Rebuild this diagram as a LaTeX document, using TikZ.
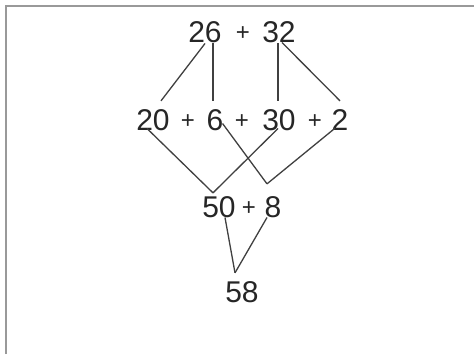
\documentclass[tikz,border=0pt]{standalone}
\usepackage{fontspec}
\setmainfont{Liberation Sans}
\begin{document}
\begin{tikzpicture}[x=1pt,y=-1pt,
  num/.style={inner sep=0pt,anchor=base,font=\fontsize{30}{36}\selectfont,text=black!85},
  plus/.style={inner sep=0pt,anchor=base,font=\fontsize{24}{28}\selectfont,text=black!85},
  link/.style={draw=black!75,line width=1.3pt}]
\useasboundingbox (0,0) rectangle (474,354);
\fill[white] (0,0) rectangle (474,354);
\draw[black!40,line width=1.5pt] (6,354) -- (6,6) -- (474,6);
% row 1
\node[num] (n26) at (205,42) {26};
\node[plus] (p1) at (243,40) {+};
\node[num] (n32) at (279,42) {32};
% row 2
\node[num] (n20) at (153,130) {20};
\node[plus] (p2) at (188,128) {+};
\node[num] (n6) at (215,130) {6};
\node[plus] (p3) at (242,128) {+};
\node[num] (n30) at (279,130) {30};
\node[plus] (p4) at (315,128) {+};
\node[num] (n2) at (340,130) {2};
% row 3
\node[num] (n50) at (219,217) {50};
\node[plus] (p5) at (249,215) {+};
\node[num] (n8) at (273,217) {8};
% row 4
\node[num] (n58) at (242,302) {58};
% meeting points
\coordinate (m50) at ([xshift=-6pt,yshift=3pt]n50.north);
\coordinate (m8) at ([xshift=-6pt,yshift=12pt]n8.north);
\coordinate (m58) at ([xshift=-7pt,yshift=8pt]n58.north);
% connectors row1 -> row2
\draw[link] ([yshift=-1pt]n26.south) -- ([xshift=8pt,yshift=8pt]n20.north);
\draw[link] ([xshift=8pt,yshift=-1pt]n26.south) -- ([xshift=-2pt,yshift=8pt]n6.north);
\draw[link] ([xshift=-1pt,yshift=-1pt]n32.south) -- ([xshift=-1pt,yshift=8pt]n30.north);
\draw[link] ([xshift=3pt]n32.south) -- ([yshift=8pt]n2.north);
% row2 -> row3
\draw[link] ([xshift=-6pt,yshift=2pt]n20.south) -- (m50);
\draw[link] ([xshift=-1pt,yshift=7pt]n6.south east) -- (m8);
\draw[link] ([xshift=-1pt,yshift=2pt]n30.south) -- (m50);
\draw[link] ([xshift=-5pt,yshift=2pt]n2.south) -- (m8);
% row3 -> row4
\draw[link] ([xshift=6pt]n50.south) -- (m58);
\draw[link] ([xshift=-6pt]n8.south) -- (m58);
\end{tikzpicture}
\end{document}
